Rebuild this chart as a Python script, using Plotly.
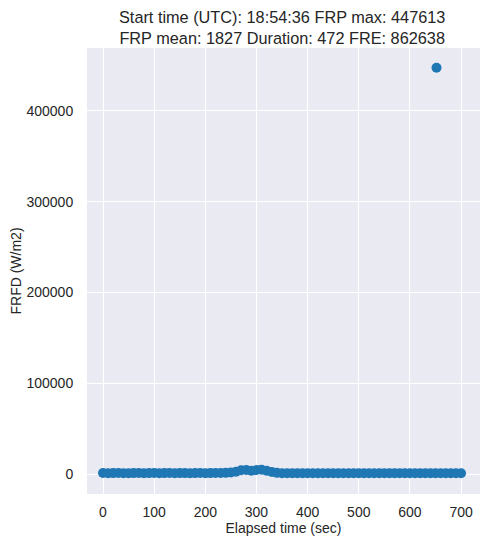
import plotly.graph_objects as go

elapsed_sec = [0, 10, 20, 30, 40, 50, 60, 70, 80, 90, 100, 110, 120, 130, 140, 150, 160, 170, 180, 190,
               200, 210, 220, 230, 240, 250, 260, 270, 280, 290, 300, 310, 320, 330, 340, 350, 360, 370, 380, 390,
               400, 410, 420, 430, 440, 450, 460, 470, 480, 490, 500, 510, 520, 530, 540, 550, 560, 570, 580, 590,
               600, 610, 620, 630, 640, 650, 652, 660, 670, 680, 690, 700]
frfd = [1100, 950, 1000, 1050, 900, 980, 1020, 1100, 950, 1000, 1050, 980, 1000, 1100, 950, 1000, 1020, 980, 1000, 1050,
        980, 1000, 1100, 1050, 1300, 1600, 2600, 4200, 4500, 3700, 4400, 4700, 3600, 2300, 1300, 900, 850, 900, 950, 900,
        880, 900, 950, 900, 920, 950, 900, 880, 900, 950, 920, 900, 950, 900, 880, 920, 950, 900, 920, 900,
        950, 900, 920, 900, 950, 900, 447613, 920, 900, 950, 900, 920]

title_lines = ["Start time (UTC): 18:54:36 FRP max: 447613",
               "FRP mean: 1827 Duration: 472 FRE: 862638"]
x_ticks = [0, 100, 200, 300, 400, 500, 600, 700]
y_ticks = [0, 100000, 200000, 300000, 400000]

fig = go.Figure(go.Scatter(
    x=elapsed_sec, y=frfd, mode="markers",
    marker=dict(color="#1f77b4", size=10, line=dict(width=0)),
))

font_fam = "Liberation Sans, Arial, sans-serif"
fig.update_layout(
    width=482, height=539,
    margin=dict(l=79, r=10, t=40, b=53),
    paper_bgcolor="white", plot_bgcolor="#EAEAF2",
    font=dict(family=font_fam, color="#262626", size=14),
    showlegend=False,
)
fig.add_annotation(text="<br>".join(title_lines), xref="paper", yref="paper", x=0.5, y=1,
                   xanchor="center", yanchor="middle", yshift=20.5, xshift=-2,
                   showarrow=False, align="center", font=dict(size=16.3, color="#262626"))
fig.update_xaxes(range=[-31.3, 737], tickvals=x_ticks, ticktext=[str(v) for v in x_ticks],
                 gridcolor="white", gridwidth=1, zeroline=False, showline=False,
                 ticks="outside", ticklen=5, tickcolor="rgba(0,0,0,0)", automargin=False,
                 tickfont=dict(size=14),
                 title=dict(text="Elapsed time (sec)", font=dict(size=14), standoff=4))
fig.update_yaxes(range=[-22000, 469400], tickvals=y_ticks, ticktext=[str(v) for v in y_ticks],
                 gridcolor="white", gridwidth=1, zeroline=False, showline=False,
                 ticks="outside", ticklen=10, tickcolor="rgba(0,0,0,0)", automargin=False,
                 tickfont=dict(size=14),
                 title=dict(text="FRFD (W/m2)", font=dict(size=14), standoff=8))

fig.write_html("out.html")
